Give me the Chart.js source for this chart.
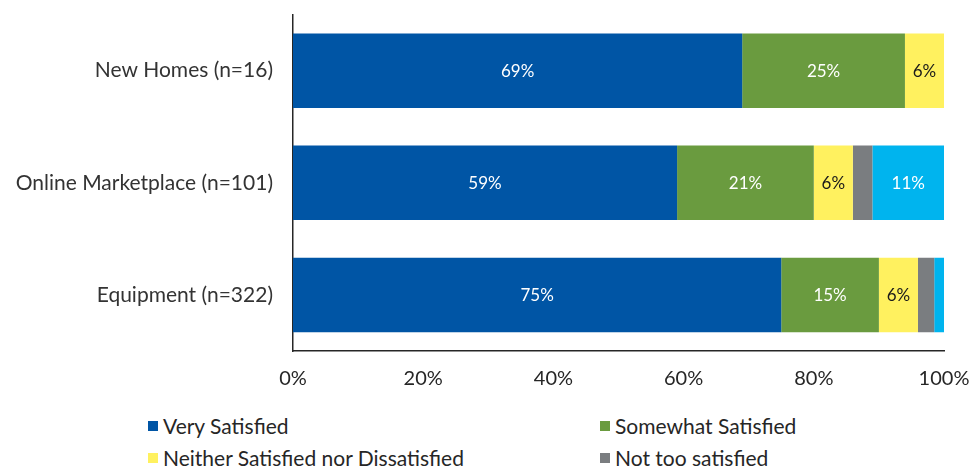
<!DOCTYPE html>
<html>
<head>
<meta charset="utf-8">
<script src="https://cdn.jsdelivr.net/npm/chart.js@4/dist/chart.umd.min.js"></script>
<style>
  html, body { margin: 0; padding: 0; background: #fff; }
  #wrap { position: relative; width: 971px; height: 468px; overflow: hidden; font-family: Lato, "Open Sans", sans-serif; }
  #box { position: absolute; left: 0; top: -18px; width: 971px; height: 425px; }
  #legend { position: absolute; left: 0; top: 408px; width: 971px; height: 60px; }
  .li { position: absolute; display: flex; align-items: center; font-size: 21px; color: #262626; white-space: nowrap; }
  .sw { width: 10px; height: 10px; margin-right: 5px; }
</style>
</head>
<body>
<div id="wrap">
  <div id="box"><canvas id="c"></canvas></div>
  <div id="legend"></div>
</div>
<script>
const categories = ["New Homes (n=16)", "Online Marketplace (n=101)", "Equipment (n=322)"];
const seriesNames = ["Very Satisfied", "Somewhat Satisfied", "Neither Satisfied nor Dissatisfied", "Not too satisfied", "Not at all satisfied"];
const verySatisfied = [69, 59, 75];
const somewhatSatisfied = [25, 21, 15];
const neither = [6, 6, 6];
const notTooSatisfied = [0, 3, 2.5];
const notAtAll = [0, 11, 1.5];
const xTicks = [0, 20, 40, 60, 80, 100];

const colors = ["#0055A5", "#6A9B3F", "#FFF15F", "#7A7D80", "#00B4EE"];
const labelColors = ["#ffffff", "#ffffff", "#1a1a1a", "#ffffff", "#ffffff"];
const allSeries = [verySatisfied, somewhatSatisfied, neither, notTooSatisfied, notAtAll];
const legendShown = [0, 1, 2, 3];

const datasets = allSeries.map((vals, i) => ({
  label: seriesNames[i],
  data: vals,
  backgroundColor: colors[i],
  borderWidth: 0,
  barPercentage: 1,
  categoryPercentage: 0.665
}));

const labelPlugin = {
  id: 'barLabels',
  afterDatasetsDraw(chart) {
    const ctx = chart.ctx;
    ctx.save();
    ctx.font = '17px Lato, "Open Sans", sans-serif';
    ctx.textAlign = 'center';
    ctx.textBaseline = 'middle';
    chart.data.datasets.forEach((ds, i) => {
      const meta = chart.getDatasetMeta(i);
      meta.data.forEach((bar, j) => {
        const v = ds.data[j];
        if (v < 5) return;
        const p = bar.getProps(['x', 'y', 'base'], true);
        ctx.fillStyle = labelColors[i];
        ctx.fillText(Math.round(v) + '%', (p.x + p.base) / 2, p.y + 1);
      });
    });
    ctx.restore();
  }
};

new Chart(document.getElementById('c'), {
  type: 'bar',
  data: { labels: categories, datasets },
  options: {
    indexAxis: 'y',
    responsive: true,
    maintainAspectRatio: false,
    animation: false,
    layout: { padding: { top: 0, right: 27, left: 0, bottom: 0 } },
    plugins: { legend: { display: false }, tooltip: { enabled: false } },
    scales: {
      x: {
        stacked: true,
        min: 0, max: 100,
        afterBuildTicks(axis) { axis.ticks = xTicks.map(v => ({ value: v })); },
        afterFit(axis) { axis.paddingLeft = 0; axis.paddingRight = 0; },
        grid: { display: false, drawTicks: false },
        border: { display: true, color: '#262626', width: 1.5 },
        ticks: { padding: 16, maxRotation: 0, color: '#262626', font: { family: 'Lato, "Open Sans", sans-serif', size: 20 }, callback: v => v + '%' }
      },
      y: {
        stacked: true,
        afterFit(axis) { axis.width = 293; },
        grid: { display: false, drawTicks: false },
        border: { display: true, color: '#262626', width: 1.5 },
        ticks: { padding: 20, color: '#333333', font: { family: 'Lato, "Open Sans", sans-serif', size: 21 } }
      }
    }
  },
  plugins: [labelPlugin]
});

const legend = document.getElementById('legend');
const pos = [[148, 18], [600, 18], [148, 50], [600, 50]];
legendShown.forEach((i, k) => {
  const d = document.createElement('div');
  d.className = 'li';
  d.style.left = pos[k][0] + 'px';
  d.style.top = (pos[k][1] - 13) + 'px';
  const s = document.createElement('span');
  s.className = 'sw';
  s.style.background = colors[i];
  const t = document.createElement('span');
  t.textContent = seriesNames[i];
  d.appendChild(s); d.appendChild(t);
  legend.appendChild(d);
});
</script>
</body>
</html>
